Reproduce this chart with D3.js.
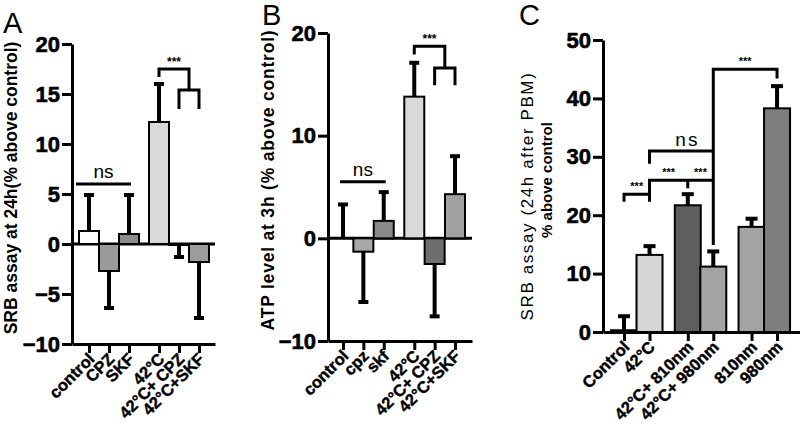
<!DOCTYPE html>
<html><head><meta charset="utf-8">
<script src="https://cdn.jsdelivr.net/npm/d3@7"></script>
<style>
body{margin:0;background:#fff;}
svg text{font-family:"Liberation Sans",Arial,sans-serif;}
</style></head>
<body><svg id="chart" width="800" height="428"></svg>
<script>
// ---------- DATA ----------
const catsA = ["control","CPZ","SKF","42°C","42°C+ CPZ","42°C+SKF"];
const groupsA = [3,3];
const valuesA = [1.3,-2.7,1.0,12.2,-0.1,-1.8];
const errorsA = [3.6,3.7,3.9,3.8,1.2,5.6];
const ticksA = [-10,-5,0,5,10,15,20];

const catsB = ["control","cpz","skf","42°C","42°C+ CPZ","42°C+SKF"];
const groupsB = [3,3];
const valuesB = [0,-1.3,1.7,13.8,-2.5,4.3];
const errorsB = [3.3,4.9,2.8,3.3,5.1,3.7];
const ticksB = [-10,0,10,20];

const catsC = ["Control","42°C","42°C+ 810nm","42°C+ 980nm","810nm","980nm"];
const groupsC = [2,2,2];
const valuesC = [0.3,13.2,21.7,11.2,18.0,38.3];
const errorsC = [2.4,1.5,1.9,2.6,1.4,3.8];
const ticksC = [0,10,20,30,40,50];

// significance levels (in data units)
const sigA = {ns:6.0, top:17.5, leg:16.7, sub:15.4, subLeg:13.5};
const sigB = {ns:5.5, top:18.7, leg:17.9, sub:16.6, subLeg:14.9};
const sigC = {a:23.6, aLeg:22.3, b:26.0, bLeg:23.8, bMid:24.6, ns:31.0, nsLeg:28.8, top:45.0, topLeg:43.4, longBottom:14.9};

// ---------- STYLE ----------
const colorsA = ["#ffffff","#9a9a9a","#8c8c8c","#d9d9d9","#6b6b6b","#9c9c9c"];
const colorsB = ["#ffffff","#a8a8a8","#8a8a8a","#d9d9d9","#6e6e6e","#a0a0a0"];
const colorsC = ["#ffffff","#d6d6d6","#5e5e5e","#a3a3a3","#a3a3a3","#7e7e7e"];
const FONT = "'Liberation Sans',Arial,sans-serif";

const svg = d3.select("#chart");

function slotsOf(groups){
  const s=[]; let p=0;
  groups.forEach(n=>{ for(let i=0;i<n;i++){ s.push(p); p++; } p+=0.5; });
  return s;
}

function drawPanel(cfg){
  const g = svg.append("g");
  const slots = slotsOf(cfg.groups);
  const x = d3.scaleLinear().domain(cfg.slotDomain).range([cfg.left, cfg.right]);
  const y = d3.scaleLinear().domain(cfg.yDomain).range([cfg.bottom, cfg.top]);
  const bw = cfg.bw;
  const data = cfg.cats.map((c,i)=>({c, s:slots[i], v:cfg.values[i], e:cfg.errors[i], col:cfg.colors[i]}));

  // y axis
  const ya = g.append("g").attr("transform",`translate(${cfg.left},0)`)
    .call(d3.axisLeft(y).tickValues(cfg.ticks).tickSize(10).tickSizeOuter(0).tickPadding(2));
  ya.attr("font-family",null).attr("font-size",null);
  ya.select(".domain").attr("stroke","#000").attr("stroke-width",3);
  ya.selectAll(".tick line").attr("stroke","#000").attr("stroke-width",3);
  ya.selectAll(".tick text").attr("fill","#000").attr("stroke","#000").attr("stroke-width",0.6)
    .style("font-family",FONT).style("font-size","22px").style("font-weight","bold");

  // x axis (at bottom of y domain)
  const xa = g.append("g").attr("transform",`translate(0,${y(cfg.yDomain[0])})`)
    .call(d3.axisBottom(x).tickValues(slots).tickSize(9).tickSizeOuter(0).tickFormat((d,i)=>cfg.cats[i]));
  xa.attr("font-family",null).attr("font-size",null);
  xa.select(".domain").attr("stroke","#000").attr("stroke-width",3);
  xa.selectAll(".tick line").attr("stroke","#000").attr("stroke-width",3);
  xa.selectAll(".tick text").attr("fill","#000").attr("stroke","#000").attr("stroke-width",0.4)
    .style("font-family",FONT).style("font-size","16.5px").style("font-weight","bold")
    .attr("text-anchor","end").attr("x",0).attr("y",0).attr("dy",0)
    .attr("transform",`translate(${cfg.lx},${cfg.ly}) rotate(-45)`);

  // zero line
  if (cfg.yDomain[0] < 0){
    g.append("line").attr("x1",cfg.left).attr("x2",cfg.right)
      .attr("y1",y(0)).attr("y2",y(0)).attr("stroke","#000").attr("stroke-width",3);
  }

  // error bars
  const eb = g.append("g").selectAll("g").data(data).join("g");
  eb.append("line").attr("x1",d=>x(d.s)).attr("x2",d=>x(d.s))
    .attr("y1",d=>y(d.v)).attr("y2",d=>y(d.v + (d.v>=0?d.e:-d.e)))
    .attr("stroke","#000").attr("stroke-width",4);
  eb.append("line").attr("x1",d=>x(d.s)-cfg.cap/2).attr("x2",d=>x(d.s)+cfg.cap/2)
    .attr("y1",d=>y(d.v + (d.v>=0?d.e:-d.e))).attr("y2",d=>y(d.v + (d.v>=0?d.e:-d.e)))
    .attr("stroke","#000").attr("stroke-width",4);

  // bars
  g.append("g").selectAll("rect").data(data).join("rect")
    .attr("x",d=>x(d.s)-bw/2).attr("width",bw)
    .attr("y",d=>Math.min(y(0),y(d.v))).attr("height",d=>Math.abs(y(d.v)-y(0)))
    .attr("fill",d=>d.col).attr("stroke","#000").attr("stroke-width",2);

  // y label
  cfg.ylabels.forEach(l=>{
    g.append("text").attr("transform",`translate(${l.x},${l.y}) rotate(-90)`)
      .attr("text-anchor","middle").style("font-size",l.size+"px").style("font-weight",l.weight)
      .attr("fill","#000").attr("letter-spacing",l.ls||0).text(l.text);
  });
  // panel letter
  g.append("text").attr("x",cfg.letter.x).attr("y",cfg.letter.y).style("font-size","29px").attr("fill","#000").text(cfg.letter.t);

  const X = c => x(slots[cfg.cats.indexOf(c)]);
  return {g,x,y,X,bw};
}

function path(g,d){ g.append("path").attr("d",d).attr("fill","none").attr("stroke","#000").attr("stroke-width",3); }
function label(g,xp,yp,t,size,weight,ls){
  g.append("text").attr("x",xp).attr("y",yp).attr("text-anchor","middle").style("font-size",size+"px")
   .style("font-weight",weight).attr("fill","#000").attr("letter-spacing",ls||0).text(t);
}

// ---------- PANEL A ----------
const pA = drawPanel({cats:catsA, groups:groupsA, values:valuesA, errors:errorsA, colors:colorsA, ticks:ticksA,
  left:72, right:215, top:44, bottom:344, yDomain:[-10,20], slotDomain:[-0.85,6.3], bw:20, cap:10, lx:6, ly:16,
  ylabels:[{x:17,y:188,text:"SRB assay at 24h(% above control)",size:17.5,weight:"bold"}],
  letter:{x:3,y:33,t:"A"}});
{
  const {g,y,X,bw}=pA;
  const x1 = X("control")-bw*0.65, x2 = X("SKF")+bw*0.1;
  path(g,`M${x1},${y(sigA.ns)}H${x2}`);
  label(g,(x1+x2)/2,y(sigA.ns)-6,"ns",19,"normal");
  const a = X("42°C"), b=X("42°C+ CPZ"), c=X("42°C+SKF"), m=(b+c)/2;
  path(g,`M${a},${y(sigA.leg)}V${y(sigA.top)}H${m}V${y(sigA.sub)}`);
  path(g,`M${b},${y(sigA.subLeg)}V${y(sigA.sub)}H${c}V${y(sigA.subLeg)}`);
  label(g,(a+m)/2,y(sigA.top)-3,"***",12,"bold");
}

// ---------- PANEL B ----------
const pB = drawPanel({cats:catsB, groups:groupsB, values:valuesB, errors:errorsB, colors:colorsB, ticks:ticksB,
  left:328, right:472, top:33, bottom:341, yDomain:[-10,20], slotDomain:[-0.737,6.335], bw:20, cap:10, lx:6, ly:16,
  ylabels:[{x:274,y:180,text:"ATP level at 3h (% above control)",size:17.5,weight:"bold",ls:0.8}],
  letter:{x:262,y:25,t:"B"}});
{
  const {g,y,X,bw}=pB;
  const x1 = X("control")-3, x2 = X("skf")+2;
  path(g,`M${x1},${y(sigB.ns)}H${x2}`);
  label(g,(x1+x2)/2,y(sigB.ns)-6,"ns",19,"normal");
  const a = X("42°C"), b=X("42°C+ CPZ"), c=X("42°C+SKF"), m=(b+c)/2;
  path(g,`M${a},${y(sigB.leg)}V${y(sigB.top)}H${m}V${y(sigB.sub)}`);
  path(g,`M${b},${y(sigB.subLeg)}V${y(sigB.sub)}H${c}V${y(sigB.subLeg)}`);
  label(g,(a+m)/2,y(sigB.top)-3,"***",12,"bold");
}

// ---------- PANEL C ----------
const pC = drawPanel({cats:catsC, groups:groupsC, values:valuesC, errors:errorsC, colors:colorsC, ticks:ticksC,
  left:603, right:800, top:40, bottom:332, yDomain:[0,50], slotDomain:[-0.824,6.9], bw:26, cap:12, lx:6, ly:16,
  ylabels:[{x:533,y:196,text:"SRB assay (24h after PBM)",size:17,weight:"normal",ls:1.6},
           {x:552,y:180,text:"% above control",size:15,weight:"bold"}],
  letter:{x:519,y:25,t:"C"}});
{
  const {g,y,X}=pC;
  const c0=X("Control"), c1=X("42°C"), c2=X("42°C+ 810nm"), c3=X("42°C+ 980nm"), c5=X("980nm");
  path(g,`M${c0},${y(sigC.aLeg)}V${y(sigC.a)}H${c1}V${y(sigC.aLeg)}`);
  label(g,(c0+c1)/2,y(sigC.a)-4,"***",11,"bold");
  path(g,`M${c1},${y(sigC.bLeg)}V${y(sigC.b)}H${c3}`);
  path(g,`M${c2},${y(sigC.bMid)}V${y(sigC.b)}`);
  label(g,(c1+c2)/2,y(sigC.b)-4,"***",11,"bold");
  label(g,(c2+c3)/2,y(sigC.b)-4,"***",11,"bold");
  path(g,`M${c1},${y(sigC.nsLeg)}V${y(sigC.ns)}H${c3}`);
  label(g,(c1+c3)/2+6,y(sigC.ns)-5,"ns",19,"normal",2);
  path(g,`M${c3},${y(sigC.longBottom)}V${y(sigC.top)}H${c5}V${y(sigC.topLeg)}`);
  label(g,(c3+c5)/2,y(sigC.top)-4,"***",11,"bold");
}
</script></body></html>
